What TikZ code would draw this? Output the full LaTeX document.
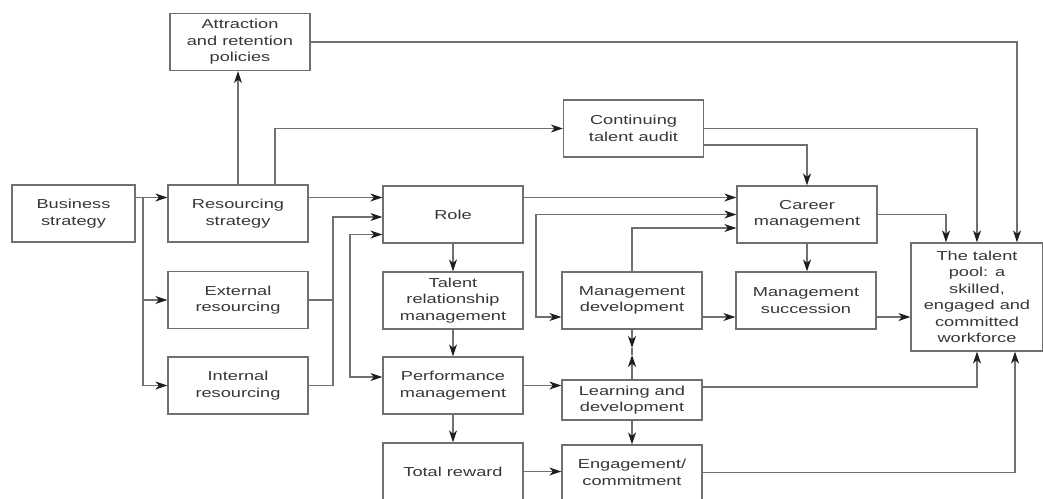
\documentclass[tikz,border=0pt]{standalone}
\usepackage{fontspec}
\newfontfamily\boxfont[FakeStretch=1.4]{Liberation Sans}
\usetikzlibrary{arrows.meta}
\definecolor{linegray}{RGB}{112,112,112}
\definecolor{textgray}{RGB}{55,55,55}
\definecolor{tipgray}{RGB}{30,30,30}

\begin{document}
\begin{tikzpicture}[x=1pt,y=-1pt,
  >={Stealth[length=12pt,width=8pt,inset=3.5pt,color=tipgray]},
  box/.style={draw=linegray, line width=1.2pt, minimum width=140pt, minimum height=57pt,
    inner sep=2pt, align=center, text=textgray, font=\boxfont\fontsize{13}{16.5}\selectfont},
  link/.style={draw=linegray, line width=1.2pt},
  arr/.style={link, ->},
  arrboth/.style={link, <->}]
  \useasboundingbox (0,0) rectangle (1043,498);

  \node[box] (attr) at (240,42) {Attraction\\and retention\\policies};
  \node[box, minimum width=123pt] (bus) at (73.5,213.5) {Business\\strategy};
  \node[box] (res) at (238,213.5) {Resourcing\\strategy};
  \node[box] (ext) at (238,300) {External\\resourcing};
  \node[box] (int) at (238,385.5) {Internal\\resourcing};
  \node[box] (audit) at (633.5,128.5) {Continuing\\talent audit};
  \node[box] (role) at (453,214.5) {Role};
  \node[box] (trm) at (453,300.5) {Talent\\relationship\\management};
  \node[box] (perf) at (453,385.5) {Performance\\management};
  \node[box] (reward) at (453,471.5) {Total reward};
  \node[box] (md) at (632,300.5) {Management\\development};
  \node[box, minimum height=40pt] (ld) at (632,400) {Learning and\\development};
  \node[box, minimum height=55pt] (eng) at (632,472.5) {Engagement/\\commitment};
  \node[box] (career) at (807,214.5) {Career\\management};
  \node[box] (succ) at (806,300.5) {Management\\succession};
  \node[box, minimum width=132pt, minimum height=108pt] (pool) at (977,297)
    {The talent\\pool: a\\skilled,\\engaged and\\committed\\workforce};

  \coordinate (fork) at (143,197.5);
  \coordinate (jn) at (333,300);
  \coordinate (perfloop) at (350,300);
  \coordinate (mdloop) at (536,260);
  \coordinate (mdtip) at (632,348);
  \coordinate (ldtip) at (632,355);

  \draw[arr] ([yshift=16pt]bus.east) -- ([yshift=16pt]res.west);
  \draw[arr] (fork) |- (ext.west);
  \draw[arr] (fork) |- (int.west);
  \draw[arr] (res.north) -- (res.north |- attr.south);
  \draw[arr] ([xshift=37pt]res.north) |- (audit.west);
  \draw[arr] (attr.east) -| ([xshift=40pt]pool.north);
  \draw[arr] (audit.east) -| (pool.north);
  \draw[arr] ([yshift=-16.5pt]audit.east) -| (career.north);
  \draw[arr] (career.east) -| ([xshift=-31pt]pool.north);

  \draw[arr] ([yshift=16pt]res.east) -- ([yshift=16pt]res.east -| role.west);
  \draw[link] (int.east) -| (jn);
  \draw[arr] (ext.east) -- (jn) |- ([yshift=-2.5pt]role.west);
  \draw[arrboth] ([yshift=-20pt]role.west) -| (perfloop) |- ([yshift=8.5pt]perf.west);
  \draw[arr] ([yshift=17pt]role.east) -- ([yshift=17pt]role.east -| career.west);
  \draw[arrboth] (career.west) -| (mdloop) |- ([yshift=-16.5pt]md.west);
  \draw[arr] (md.north) |- ([yshift=-13.5pt]career.west);

  \draw[arr] (role.south) -- (trm.north);
  \draw[arr] (trm.south) -- (perf.north);
  \draw[arr] (perf.south) -- (reward.north);
  \draw[arr] (perf.east) -- (perf.east -| ld.west);
  \draw[arr] (reward.east) -- (reward.east -| eng.west);
  \draw[arr] (md.south) -- (mdtip);
  \draw[arr] (ld.north) -- (ldtip);
  \draw[link] (mdtip) -- (ldtip);
  \draw[arr] (ld.south) -- (eng.north);
  \draw[arr] ([yshift=-16.5pt]md.east) -- ([yshift=-16.5pt]md.east -| succ.west);
  \draw[arr] (career.south) -- (career.south |- succ.north);
  \draw[arr] ([yshift=-16.5pt]succ.east) -- ([yshift=-16.5pt]succ.east -| pool.west);
  \draw[arr] ([yshift=13pt]ld.east) -| (pool.south);
  \draw[arr] (eng.east) -| ([xshift=38pt]pool.south);
\end{tikzpicture}
\end{document}
